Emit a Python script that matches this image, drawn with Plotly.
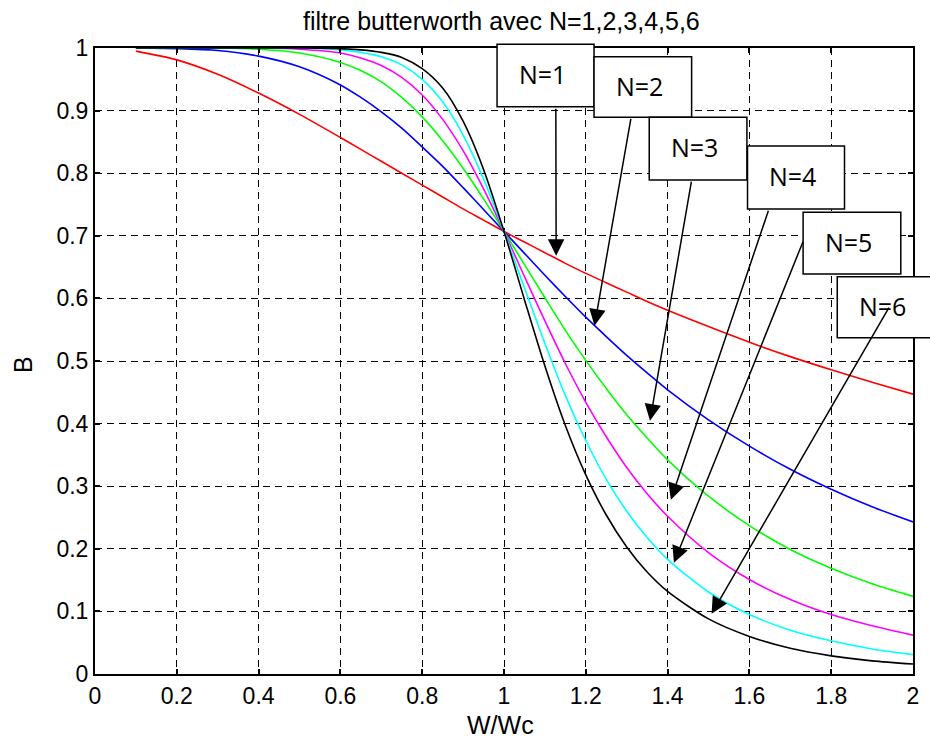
import plotly.graph_objects as go

# ---------------- data ----------------
w = [0.1, 0.2, 0.3, 0.4, 0.5, 0.6, 0.65, 0.7, 0.75, 0.8, 0.85, 0.9, 0.95, 1.0,
     1.05, 1.1, 1.15, 1.2, 1.25, 1.3, 1.35, 1.4, 1.5, 1.6, 1.7, 1.8, 1.9, 2.0]

B_N1 = [0.995, 0.981, 0.958, 0.928, 0.894, 0.857, 0.838, 0.819, 0.800, 0.781, 0.762, 0.743, 0.725, 0.707,
        0.690, 0.673, 0.656, 0.640, 0.625, 0.610, 0.595, 0.581, 0.555, 0.530, 0.507, 0.486, 0.466, 0.447]
B_N2 = [1.000, 0.999, 0.996, 0.987, 0.970, 0.941, 0.921, 0.898, 0.872, 0.842, 0.811, 0.777, 0.742, 0.707,
        0.672, 0.637, 0.603, 0.570, 0.539, 0.509, 0.481, 0.454, 0.406, 0.364, 0.327, 0.295, 0.267, 0.243]
B_N3 = [1.000, 1.000, 1.000, 0.998, 0.992, 0.977, 0.964, 0.946, 0.921, 0.890, 0.852, 0.808, 0.759, 0.707,
        0.654, 0.601, 0.549, 0.501, 0.456, 0.414, 0.377, 0.342, 0.284, 0.237, 0.199, 0.169, 0.144, 0.124]
B_N4 = [1.000, 1.000, 1.000, 1.000, 0.998, 0.992, 0.984, 0.972, 0.953, 0.925, 0.886, 0.836, 0.775, 0.707,
        0.635, 0.564, 0.496, 0.434, 0.379, 0.330, 0.288, 0.252, 0.194, 0.151, 0.119, 0.095, 0.077, 0.062]
B_N5 = [1.000, 1.000, 1.000, 1.000, 1.000, 0.997, 0.993, 0.986, 0.973, 0.950, 0.914, 0.861, 0.791, 0.707,
        0.617, 0.528, 0.445, 0.373, 0.311, 0.260, 0.218, 0.183, 0.131, 0.095, 0.070, 0.053, 0.040, 0.031]
B_N6 = [1.000, 1.000, 1.000, 1.000, 1.000, 0.999, 0.997, 0.993, 0.985, 0.967, 0.936, 0.883, 0.806, 0.707,
        0.598, 0.492, 0.397, 0.318, 0.254, 0.203, 0.163, 0.132, 0.088, 0.060, 0.041, 0.029, 0.021, 0.016]

series_labels = ["N=1", "N=2", "N=3", "N=4", "N=5", "N=6"]
series_values = [B_N1, B_N2, B_N3, B_N4, B_N5, B_N6]

x_ticks = [0, 0.2, 0.4, 0.6, 0.8, 1.0, 1.2, 1.4, 1.6, 1.8, 2.0]
x_ticktext = ["0", "0.2", "0.4", "0.6", "0.8", "1", "1.2", "1.4", "1.6", "1.8", "2"]
y_ticks = [0, 0.1, 0.2, 0.3, 0.4, 0.5, 0.6, 0.7, 0.8, 0.9, 1.0]
y_ticktext = ["0", "0.1", "0.2", "0.3", "0.4", "0.5", "0.6", "0.7", "0.8", "0.9", "1"]

# ---------------- styling / layout ----------------
colors = ["#FF0000", "#0000FF", "#00FF00", "#FF00FF", "#00FFFF", "#000000"]
W, H = 930, 738
ML, MR, MT, MB = 95, 11, 48, 64
PW, PH = W - ML - MR, H - MT - MB


def px2paper_x(px):
    return (px - ML) / PW


def px2paper_y(py):
    return (H - MB - py) / PH


fig = go.Figure()
for lab, vals, c in zip(series_labels, series_values, colors):
    fig.add_trace(go.Scatter(x=w, y=vals, mode="lines", name=lab,
                             line=dict(color=c, width=1.6, shape="spline", smoothing=0.8),
                             showlegend=False, hoverinfo="skip"))

axis_font = dict(family="Liberation Sans, Arial, sans-serif", size=23, color="black")
common_axis = dict(showgrid=True, gridcolor="black", griddash="7px,5px", gridwidth=1.2,
                   showline=True, linecolor="black", linewidth=2, ticks="inside", ticklen=5,
                   tickwidth=1.5, tickcolor="black", mirror="ticks", zeroline=False,
                   tickfont=axis_font)

fig.update_xaxes(range=[0, 2], tickvals=x_ticks, ticktext=x_ticktext, **common_axis)
fig.update_yaxes(range=[0, 1], tickvals=y_ticks, ticktext=y_ticktext, **common_axis)

# text boxes (pixel geometry of the reference)
boxes = [  # x0, x1, y0, y1 in pixels
    (500, 597.7, 44.3, 106.7),
    (597.7, 696, 56.7, 117.3),
    (653.3, 751.7, 117.3, 180),
    (752.3, 850, 146, 209),
    (808.3, 906.7, 212.3, 274),
    (842.7, 941, 276.7, 337.7),
]
shapes = []
annotations = []
for lab, (x0, x1, y0, y1) in zip(series_labels, boxes):
    shapes.append(dict(type="rect", xref="paper", yref="paper",
                       x0=px2paper_x(x0), x1=px2paper_x(x1),
                       y0=px2paper_y(y1), y1=px2paper_y(y0),
                       line=dict(color="black", width=1.5), fillcolor="white", layer="above"))
    annotations.append(dict(text=lab, xref="paper", yref="paper",
                            x=px2paper_x(x0 + 20), y=px2paper_y((y0 + y1) / 2 - 1.5),
                            xanchor="left", yanchor="middle", showarrow=False,
                            font=dict(family="Open Sans, sans-serif", size=25, color="black")))

# arrows: (tip_x, tip_y, tail_x, tail_y) in data units
arrows = [
    (1.1275, 0.668, 1.1267, 0.906),
    (1.2213, 0.5564, 1.311, 0.8898),
    (1.357, 0.4046, 1.459, 0.7896),
    (1.408, 0.2784, 1.648, 0.7433),
    (1.4154, 0.1778, 1.733, 0.6938),
    (1.5076, 0.0963, 1.944, 0.5883),
]
for tx, ty, ax_, ay_ in arrows:
    annotations.append(dict(text=" ", x=tx, y=ty, xref="x", yref="y",
                            ax=ax_, ay=ay_, axref="x", ayref="y",
                            showarrow=True, arrowhead=2, arrowsize=2.2, arrowwidth=1.5,
                            arrowcolor="black", standoff=0, startstandoff=0,
                            font=dict(size=1)))

title_font = dict(family="Liberation Sans, Arial, sans-serif", size=25, color="black")
annotations.append(dict(text="filtre butterworth avec N=1,2,3,4,5,6", xref="paper", yref="paper",
                        x=px2paper_x(504.5), y=px2paper_y(21), xanchor="center", yanchor="middle",
                        showarrow=False, font=title_font))
annotations.append(dict(text="W/Wc", xref="paper", yref="paper",
                        x=px2paper_x(503), y=px2paper_y(725), xanchor="center", yanchor="middle",
                        showarrow=False, font=title_font))
annotations.append(dict(text="B", xref="paper", yref="paper", textangle=-90,
                        x=px2paper_x(22.5), y=px2paper_y(365), xanchor="center", yanchor="middle",
                        showarrow=False, font=title_font))

fig.update_layout(width=W, height=H, autosize=False,
                  margin=dict(l=ML, r=MR, t=MT, b=MB, pad=0),
                  plot_bgcolor="white", paper_bgcolor="white",
                  shapes=shapes, annotations=annotations, showlegend=False)

fig.write_html("out.html")
